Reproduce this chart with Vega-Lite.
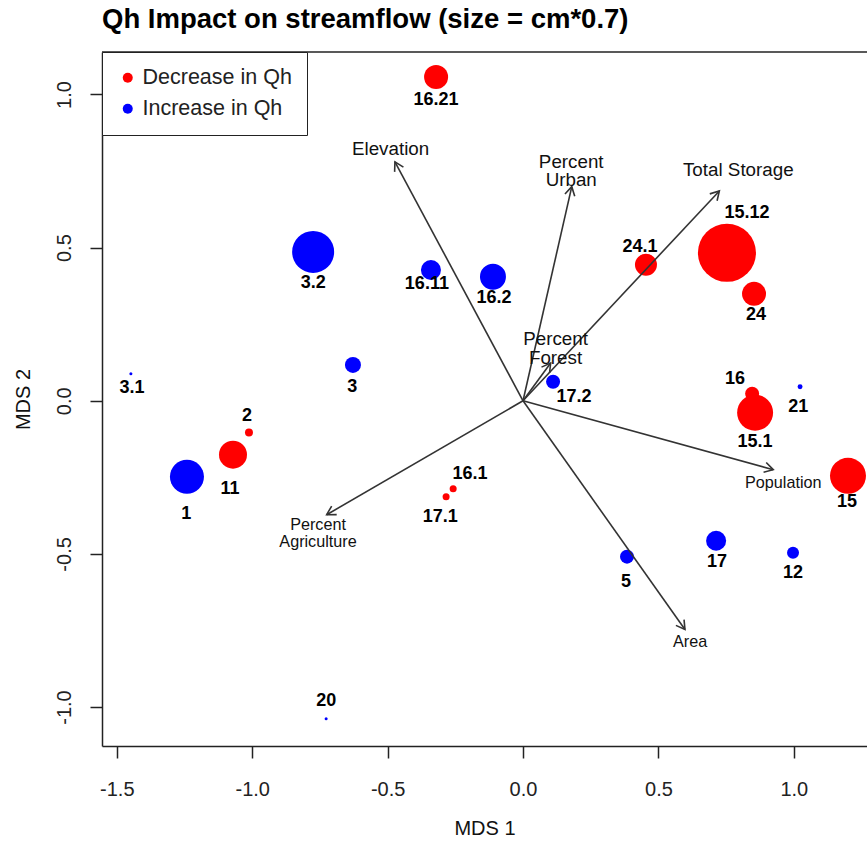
{
  "$schema": "https://vega.github.io/schema/vega-lite/v6.json",
  "width": 765,
  "height": 694,
  "autosize": {"type": "none"},
  "padding": {"left": 102, "top": 52, "right": 0, "bottom": 97},
  "background": "white",
  "title": {"text": "Qh Impact on streamflow (size = cm*0.7)", "anchor": "start", "frame": "group", "font": "Liberation Sans", "fontSize": 27.5, "fontWeight": "bold", "color": "black", "offset": 18},
  "config": {
    "view": {"stroke": null},
    "axis": {"labelFont": "Liberation Sans", "titleFont": "Liberation Sans", "labelFontSize": 20, "titleFontSize": 20, "titleFontWeight": "normal", "labelColor": "#222", "titleColor": "#111", "tickColor": "#222", "domainColor": "#222", "domainWidth": 1.5, "tickWidth": 1.5, "tickSize": 12, "grid": false, "labelFlush": false}
  },
  "datasets": {
    "sites": [
      {"site": "16.21", "change": "Decrease in Qh", "cm": 3.43, "x": -0.321, "y": 1.057, "lx": -0.321, "ly": 0.982},
      {"site": "3.2", "change": "Increase in Qh", "cm": 6.0, "x": -0.775, "y": 0.486, "lx": -0.775, "ly": 0.385},
      {"site": "16.11", "change": "Increase in Qh", "cm": 2.86, "x": -0.340, "y": 0.427, "lx": -0.355, "ly": 0.382},
      {"site": "16.2", "change": "Increase in Qh", "cm": 3.71, "x": -0.111, "y": 0.405, "lx": -0.107, "ly": 0.336},
      {"site": "24.1", "change": "Decrease in Qh", "cm": 3.14, "x": 0.454, "y": 0.444, "lx": 0.432, "ly": 0.502},
      {"site": "15.12", "change": "Decrease in Qh", "cm": 8.29, "x": 0.753, "y": 0.483, "lx": 0.827, "ly": 0.613},
      {"site": "24", "change": "Decrease in Qh", "cm": 3.43, "x": 0.853, "y": 0.349, "lx": 0.860, "ly": 0.281},
      {"site": "3", "change": "Increase in Qh", "cm": 2.29, "x": -0.628, "y": 0.117, "lx": -0.631, "ly": 0.046},
      {"site": "3.1", "change": "Increase in Qh", "cm": 0.43, "x": -1.448, "y": 0.088, "lx": -1.444, "ly": 0.042},
      {"site": "17.2", "change": "Increase in Qh", "cm": 2.0, "x": 0.111, "y": 0.062, "lx": 0.188, "ly": 0.013},
      {"site": "16", "change": "Decrease in Qh", "cm": 2.0, "x": 0.846, "y": 0.023, "lx": 0.783, "ly": 0.072},
      {"site": "15.1", "change": "Decrease in Qh", "cm": 5.14, "x": 0.857, "y": -0.039, "lx": 0.857, "ly": -0.134},
      {"site": "21", "change": "Increase in Qh", "cm": 0.71, "x": 1.023, "y": 0.046, "lx": 1.016, "ly": -0.020},
      {"site": "2", "change": "Decrease in Qh", "cm": 1.14, "x": -1.012, "y": -0.104, "lx": -1.019, "ly": -0.049},
      {"site": "11", "change": "Decrease in Qh", "cm": 4.0, "x": -1.071, "y": -0.176, "lx": -1.082, "ly": -0.287},
      {"site": "1", "change": "Increase in Qh", "cm": 4.86, "x": -1.241, "y": -0.248, "lx": -1.244, "ly": -0.369},
      {"site": "16.1", "change": "Decrease in Qh", "cm": 1.0, "x": -0.258, "y": -0.287, "lx": -0.196, "ly": -0.238},
      {"site": "17.1", "change": "Decrease in Qh", "cm": 1.0, "x": -0.284, "y": -0.313, "lx": -0.306, "ly": -0.378},
      {"site": "15", "change": "Decrease in Qh", "cm": 5.14, "x": 1.200, "y": -0.245, "lx": 1.196, "ly": -0.330},
      {"site": "17", "change": "Increase in Qh", "cm": 2.86, "x": 0.713, "y": -0.457, "lx": 0.716, "ly": -0.525},
      {"site": "5", "change": "Increase in Qh", "cm": 2.0, "x": 0.384, "y": -0.509, "lx": 0.380, "ly": -0.591},
      {"site": "12", "change": "Increase in Qh", "cm": 1.71, "x": 0.997, "y": -0.496, "lx": 0.997, "ly": -0.561},
      {"site": "20", "change": "Increase in Qh", "cm": 0.43, "x": -0.727, "y": -1.038, "lx": -0.727, "ly": -0.979}
    ],
    "vectors": [
      {"variable": "Elevation", "label": "Elevation", "x0": 0, "y0": 0, "x": -0.473, "y": 0.780, "lx": -0.489, "ly": 0.822},
      {"variable": "Percent Urban", "label": "Percent\nUrban", "x0": 0, "y0": 0, "x": 0.180, "y": 0.699, "lx": 0.178, "ly": 0.781},
      {"variable": "Total Storage", "label": "Total Storage", "x0": 0, "y0": 0, "x": 0.725, "y": 0.685, "lx": 0.795, "ly": 0.754},
      {"variable": "Percent Forest", "label": "Percent\nForest", "x0": 0, "y0": 0, "x": 0.102, "y": 0.123, "lx": 0.120, "ly": 0.201},
      {"variable": "Population", "label": "Population", "x0": 0, "y0": 0, "x": 0.924, "y": -0.225, "lx": 0.961, "ly": -0.267},
      {"variable": "Area", "label": "Area", "x0": 0, "y0": 0, "x": 0.598, "y": -0.747, "lx": 0.617, "ly": -0.789},
      {"variable": "Percent Agriculture", "label": "Percent\nAgriculture", "x0": 0, "y0": 0, "x": -0.725, "y": -0.372, "lx": -0.757, "ly": -0.405}
    ]
  },
  "layer": [
    {
      "data": {"name": "sites"},
      "mark": {"type": "point", "filled": true, "opacity": 1, "shape": "circle", "strokeWidth": 0},
      "encoding": {
        "x": {"field": "x", "type": "quantitative", "title": "MDS 1", "scale": {"domain": [-1.5547, 1.2702], "nice": false, "zero": false},
              "axis": {"values": [-1.5, -1, -0.5, 0, 0.5, 1], "labelExpr": "replace(format(datum.value, '.1f'), '−', '-')", "labelPadding": 21, "titlePadding": 19}},
        "y": {"field": "y", "type": "quantitative", "title": "MDS 2", "scale": {"domain": [-1.1272, 1.1387], "nice": false, "zero": false},
              "axis": {"values": [-1, -0.5, 0, 0.5, 1], "labelExpr": "replace(format(datum.value, '.1f'), '−', '-')", "labelAngle": -90, "labelPadding": 16, "titlePadding": 21}},
        "color": {"field": "change", "type": "nominal", "scale": {"domain": ["Decrease in Qh", "Increase in Qh"], "range": ["#FF0000", "#0000FF"]},
                  "legend": {"title": null, "orient": "top-left", "offset": 0, "padding": 15, "strokeColor": "#222", "fillColor": "white", "symbolType": "circle", "symbolSize": 100, "symbolStrokeWidth": 0, "labelFont": "Liberation Sans", "labelFontSize": 21.5, "labelColor": "#222", "rowPadding": 8, "labelOffset": 4}},
        "size": {"field": "cm", "type": "quantitative", "scale": {"type": "pow", "exponent": 2, "domain": [0, 10], "range": [0, 4900]}, "legend": null}
      }
    },
    {
      "data": {"name": "sites"},
      "mark": {"type": "text", "font": "Liberation Sans", "fontWeight": "bold", "fontSize": 18, "color": "black", "align": "center", "baseline": "middle"},
      "encoding": {
        "x": {"field": "lx", "type": "quantitative", "scale": {"domain": [-1.5547, 1.2702], "nice": false, "zero": false}},
        "y": {"field": "ly", "type": "quantitative", "scale": {"domain": [-1.1272, 1.1387], "nice": false, "zero": false}},
        "text": {"field": "site", "type": "nominal"}
      }
    },
    {
      "data": {"name": "vectors"},
      "mark": {"type": "rule", "color": "#333", "strokeWidth": 1.6},
      "encoding": {
        "x": {"field": "x0", "type": "quantitative", "scale": {"domain": [-1.5547, 1.2702], "nice": false, "zero": false}},
        "y": {"field": "y0", "type": "quantitative", "scale": {"domain": [-1.1272, 1.1387], "nice": false, "zero": false}},
        "x2": {"field": "x"},
        "y2": {"field": "y"}
      }
    },
    {
      "data": {"name": "vectors"},
      "transform": [{"calculate": "atan2(datum.x * 270.8, datum.y * 306.5) * 180 / PI", "as": "heading"}],
      "mark": {"type": "point", "shape": "M -0.5 0.866 L 0 0 L 0.5 0.866", "filled": false, "stroke": "#333", "strokeWidth": 1.6, "size": 400, "opacity": 1},
      "encoding": {
        "x": {"field": "x", "type": "quantitative", "scale": {"domain": [-1.5547, 1.2702], "nice": false, "zero": false}},
        "y": {"field": "y", "type": "quantitative", "scale": {"domain": [-1.1272, 1.1387], "nice": false, "zero": false}},
        "angle": {"field": "heading", "type": "quantitative", "scale": null}
      }
    },
    {
      "data": {"name": "vectors"},
      "transform": [{"filter": {"field": "variable", "oneOf": ["Elevation", "Percent Urban", "Total Storage", "Percent Forest"]}}],
      "mark": {"type": "text", "font": "Liberation Sans", "fontSize": 18.8, "color": "#111", "align": "center", "baseline": "middle", "lineBreak": "\n", "lineHeight": 18.5},
      "encoding": {
        "x": {"field": "lx", "type": "quantitative", "scale": {"domain": [-1.5547, 1.2702], "nice": false, "zero": false}},
        "y": {"field": "ly", "type": "quantitative", "scale": {"domain": [-1.1272, 1.1387], "nice": false, "zero": false}},
        "text": {"field": "label", "type": "nominal"}
      }
    },
    {
      "data": {"name": "vectors"},
      "transform": [{"filter": {"field": "variable", "oneOf": ["Population", "Area", "Percent Agriculture"]}}],
      "mark": {"type": "text", "font": "Liberation Sans", "fontSize": 16.2, "color": "#111", "align": "center", "baseline": "middle", "lineBreak": "\n", "lineHeight": 17},
      "encoding": {
        "x": {"field": "lx", "type": "quantitative", "scale": {"domain": [-1.5547, 1.2702], "nice": false, "zero": false}},
        "y": {"field": "ly", "type": "quantitative", "scale": {"domain": [-1.1272, 1.1387], "nice": false, "zero": false}},
        "text": {"field": "label", "type": "nominal"}
      }
    },
    {
      "data": {"values": [{}]},
      "mark": {"type": "rule", "color": "#222", "strokeWidth": 1.5},
      "encoding": {
        "y": {"datum": 1.1387, "type": "quantitative", "scale": {"domain": [-1.1272, 1.1387], "nice": false, "zero": false}}
      }
    }
  ]
}
